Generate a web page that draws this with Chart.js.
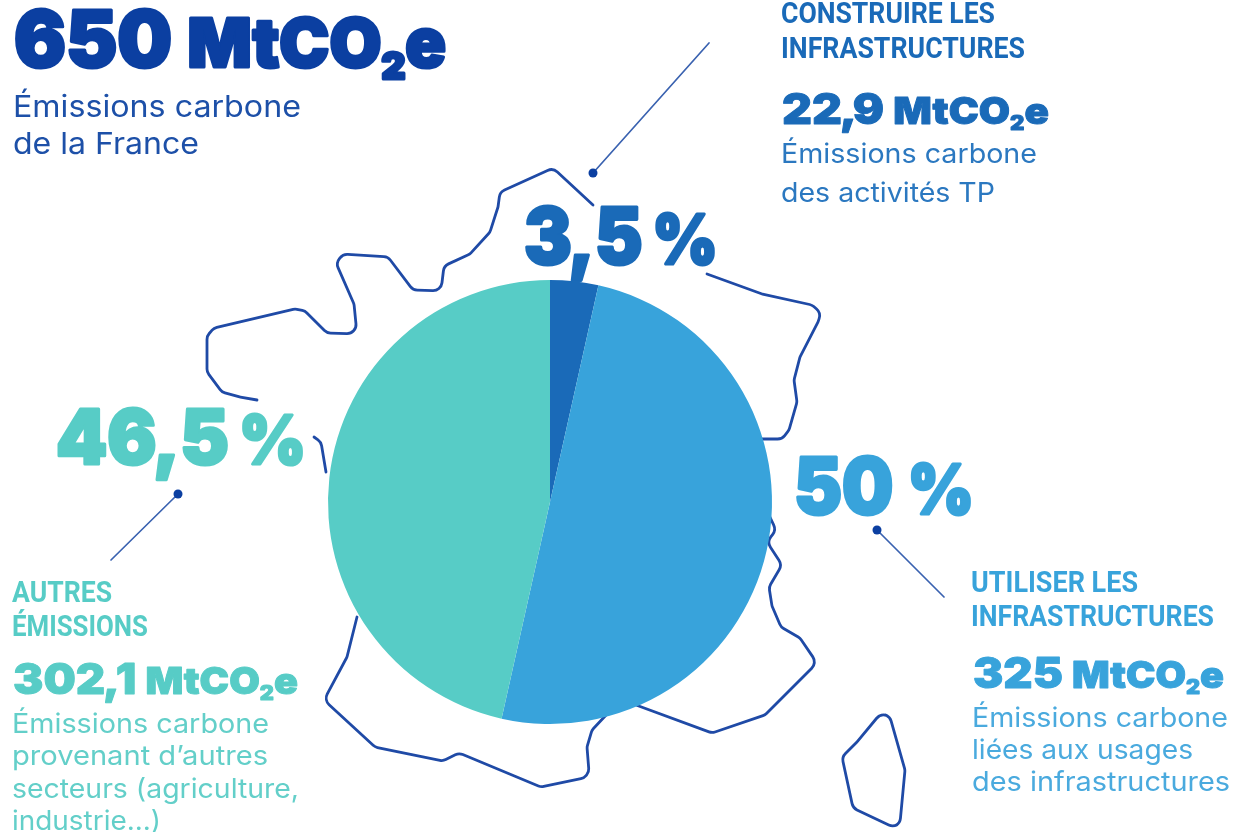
<!DOCTYPE html>
<html lang="fr">
<head>
<meta charset="utf-8">
<title>Émissions carbone de la France</title>
<script src="https://cdn.jsdelivr.net/npm/chart.js@4/dist/chart.umd.min.js"></script>
<style>
    html, body { margin: 0; padding: 0; background: #fff; overflow: hidden; }
    #stage { position: relative; width: 1235px; height: 832px; }
    #stage canvas, #stage svg { position: absolute; left: 0; top: 0; }
    .big { font-family: Inter, sans-serif; font-weight: 900; paint-order: stroke; stroke-linejoin: round; }
    .head { font-family: Roboto, sans-serif; font-weight: 700; }
    .body { font-family: Inter, sans-serif; font-weight: 400; }
</style>
</head>
<body>
<div id="stage">
    <canvas id="pieChart" width="1235" height="832"></canvas>
    <svg id="labels" width="1235" height="832" xmlns="http://www.w3.org/2000/svg"></svg>
</div>
<script>
const categories = ['Construire les infrastructures', 'Utiliser les infrastructures', 'Autres émissions'];
const shares = [3.5, 50, 46.5];
const emissions = [22.9, 325, 302.1];
const totalEmissions = 650;
const sliceColors = ['#1a6ab8', '#38a3db', '#57ccc6'];
const bodyColors = ['#2b78c0', '#4aaade', '#63cfc9'];

const navy = '#0b3fa1';
const mapBlue = '#1f4aa6';

// Outline of the country, broken where the big percentages sit
const mapOutline = [
    [[257,400],[240,397],[222,392],[207,372],[207,336],[214,328],[295,309],[305,311],[327,333],[357,334],[354,304],[336,263],[343,254],[388,257],[413,290],[441,291],[444,266],[470,254],[490,232],[498,207],[500,192],[553,168],[593,205]],
    [[707,274],[762,294],[812,305],[821,313],[818,322],[800,357],[794,380],[797,402],[789,430],[782,439],[760,439]],
    [[769,515],[776,530],[767,542],[782,565],[769,587],[772,606],[781,627],[800,638],[817,663],[765,715],[712,733],[636,705]],
    [[608,713],[592,730],[587,747],[589,772],[584,778],[541,787],[459,753],[443,761],[375,747],[324,700],[347,657],[357,617]],
    [[314,437],[321,442],[326,472]]
];
const corsica = [[881,713],[857,742],[842,757],[853,808],[893,827],[900,823],[905,770],[890,717]];

// dot first, then the far end of the leader
const leaders = [
    [[593,173],[709,43]],
    [[877,530],[944,597]],
    [[178,494],[111,560]]
];

function tracePath(ctx, pts, closed) {
    const r = 9;
    ctx.beginPath();
    if (closed) {
        const last = pts[pts.length - 1], first = pts[0];
        ctx.moveTo((last[0] + first[0]) / 2, (last[1] + first[1]) / 2);
        pts.forEach((p, i) => {
            const next = pts[(i + 1) % pts.length];
            ctx.arcTo(p[0], p[1], next[0], next[1], r);
        });
        ctx.closePath();
    } else {
        ctx.moveTo(pts[0][0], pts[0][1]);
        for (let i = 1; i < pts.length - 1; i++) {
            ctx.arcTo(pts[i][0], pts[i][1], pts[i + 1][0], pts[i + 1][1], r);
        }
        const end = pts[pts.length - 1];
        ctx.lineTo(end[0], end[1]);
    }
}

// Map goes under the pie, leaders are thin lines ending in a dot
const backdrop = {
    id: 'backdrop',
    beforeDatasetsDraw(chart) {
        const ctx = chart.ctx;
        ctx.save();
        ctx.strokeStyle = mapBlue;
        ctx.lineWidth = 2.8;
        ctx.lineJoin = 'round';
        ctx.lineCap = 'round';
        mapOutline.forEach(part => {
            tracePath(ctx, part, false);
            ctx.stroke();
        });
        tracePath(ctx, corsica, true);
        ctx.stroke();

        leaders.forEach(l => {
            ctx.strokeStyle = '#3a62b0';
            ctx.lineWidth = 1.7;
            ctx.beginPath();
            ctx.moveTo(l[0][0], l[0][1]);
            ctx.lineTo(l[1][0], l[1][1]);
            ctx.stroke();
            ctx.fillStyle = navy;
            ctx.beginPath();
            ctx.arc(l[0][0], l[0][1], 4.5, 0, Math.PI * 2);
            ctx.fill();
        });
        ctx.restore();
    }
};

new Chart(document.getElementById('pieChart').getContext('2d'), {
    type: 'pie',
    data: {
        labels: categories,
        datasets: [{
            data: shares,
            backgroundColor: sliceColors,
            borderWidth: 0
        }]
    },
    options: {
        responsive: false,
        animation: false,
        layout: { padding: { left: 328, right: 463, top: 280, bottom: 108 } },
        plugins: { legend: { display: false }, tooltip: { enabled: false } }
    },
    plugins: [backdrop]
});

// French decimal comma, pulled tight against the digits around it
const frNum = v => String(v).replace('.', '<tspan dx="-0.05em" letter-spacing="-0.09em">,</tspan>');
const pct = (v, gap) => frNum(v) + gap + '<tspan font-size="0.88em">%</tspan>';
const co2 = v => frNum(v) + ' <tspan font-size="0.87em">MtCO</tspan><tspan dy="0.31em" font-size="0.48em">2</tspan><tspan dy="-0.171em" font-size="0.87em">e</tspan>';

// html, left, baseline, width, class, size, colour
const textLines = [
    [co2(totalEmissions), 14, 67, 432, 'big', 78, navy],
    ['Émissions carbone', 13, 117, 288, 'body', 30, '#1d50a8'],
    ['de la France', 13, 154, 186, 'body', 30, '#1d50a8'],

    ['CONSTRUIRE LES', 781, 23, 214, 'head', 29, sliceColors[0]],
    ['INFRASTRUCTURES', 781, 58, 244, 'head', 29, sliceColors[0]],
    [co2(emissions[0]), 782, 123.5, 267, 'big', 42, sliceColors[0]],
    ['Émissions carbone', 781, 163, 256, 'body', 27, bodyColors[0]],
    ['des activités TP', 781, 202, 214, 'body', 27, bodyColors[0]],
    [pct(shares[0], '\u202F'), 524, 264, 194, 'big', 78, sliceColors[0]],

    [pct(shares[1], ' '), 794, 514, 180, 'big', 78, sliceColors[1]],
    ['UTILISER LES', 971, 592, 167, 'head', 29, sliceColors[1]],
    ['INFRASTRUCTURES', 971, 626, 243, 'head', 29, sliceColors[1]],
    [co2(emissions[1]), 973, 687.5, 251, 'big', 42, sliceColors[1]],
    ['Émissions carbone', 972, 727, 256, 'body', 27, bodyColors[1]],
    ['liées aux usages', 972, 759, 221, 'body', 27, bodyColors[1]],
    ['des infrastructures', 972, 791, 258, 'body', 27, bodyColors[1]],

    [pct(shares[2], '\u202F'), 56, 464, 250, 'big', 76, sliceColors[2]],
    ['AUTRES', 12, 602, 100, 'head', 29, sliceColors[2]],
    ['ÉMISSIONS', 12, 636, 136, 'head', 29, sliceColors[2]],
    [co2(emissions[2]), 13, 693.5, 285, 'big', 42, sliceColors[2]],
    ['Émissions carbone', 12, 733, 257, 'body', 27, bodyColors[2]],
    ['provenant d’autres', 12, 765, 256, 'body', 27, bodyColors[2]],
    ['secteurs (agriculture,', 12, 798, 287, 'body', 27, bodyColors[2]],
    ['industrie...)', 12, 830, 149, 'body', 27, bodyColors[2]]
];

// Heavy display figures get a stroke of their own colour to fatten the glyphs
document.getElementById('labels').innerHTML = textLines.map(t => {
    const weight = t[5] > 60 ? 0.04 : 0.022;
    const fat = t[4] === 'big' ? ` stroke="${t[6]}" stroke-width="${t[5] * weight}"` : '';
    return `<text x="${t[1]}" y="${t[2]}" textLength="${t[3]}" lengthAdjust="spacingAndGlyphs" class="${t[4]}" font-size="${t[5]}" fill="${t[6]}"${fat}>${t[0]}</text>`;
}).join('');
</script>
</body>
</html>
